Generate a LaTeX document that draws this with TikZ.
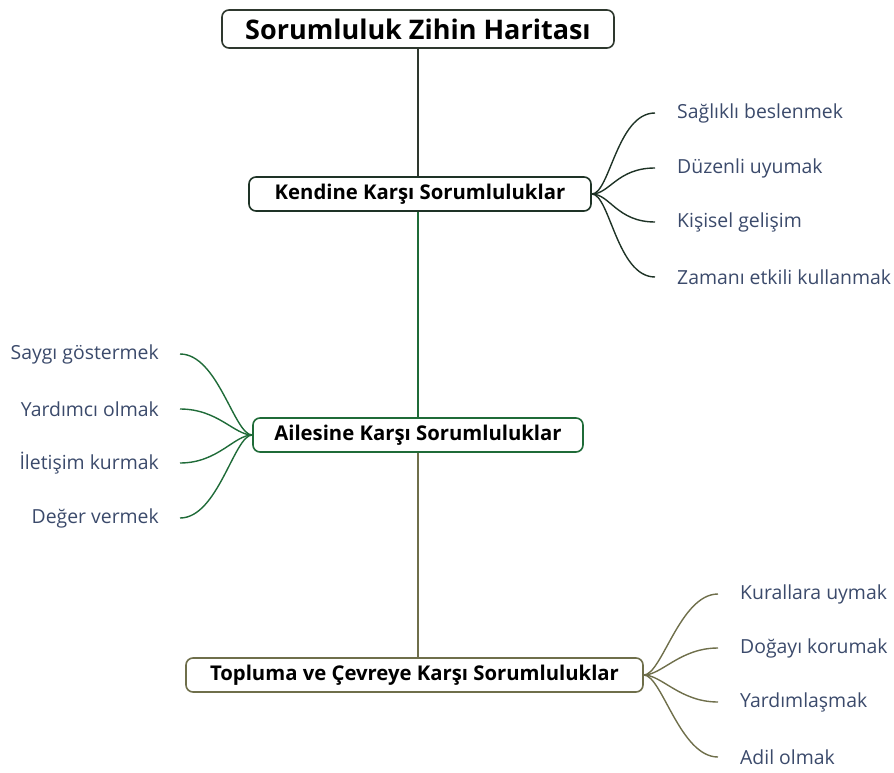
\documentclass[tikz,border=0pt]{standalone}
\usepackage{fontspec}
\setmainfont{Open Sans}
\usepackage{tikz}

\definecolor{rootline}{HTML}{2E382E}
\definecolor{selfline}{HTML}{1E3326}
\definecolor{famline}{HTML}{1F6B38}
\definecolor{socline}{HTML}{6F6F4B}
\definecolor{leaftext}{HTML}{3B4A6B}

\tikzset{
    box/.style={draw, line width=1.6pt, rounded corners=7pt, fill=white, font=\bfseries\fontsize{20.3}{24}\selectfont, minimum height=34pt, inner xsep=0pt},
    leaf/.style={text=leaftext, font=\fontsize{19.4}{23}\selectfont, inner sep=0pt},
    branch/.style={line width=1.4pt}
}

\begin{document}
\begin{tikzpicture}[x=1pt,y=-1pt]
    \useasboundingbox (0,0) rectangle (894,773);
    \node[box, draw=rootline, minimum height=38pt, minimum width=392pt, font=\bfseries\fontsize{27}{31}\selectfont] (root) at (418,29) {Sorumluluk Zihin Haritası};
    \node[box, draw=selfline, minimum width=342pt] (self) at (420,194) {Kendine Karşı Sorumluluklar};
    \node[box, draw=famline, minimum width=330pt] (fam) at (418,435) {Ailesine Karşı Sorumluluklar};
    \node[box, draw=socline, minimum width=457pt] (soc) at (414.5,675) {Topluma ve Çevreye Karşı Sorumluluklar};

    \draw[branch, rootline] (root.south) -- (root.south |- self.north);
    \draw[branch, famline] (root.south |- self.south) -- (root.south |- fam.north);
    \draw[branch, socline] (root.south |- fam.south) -- (root.south |- soc.north);

    % kendine
    \node[leaf, anchor=west] (s1) at (677,113) {Sağlıklı beslenmek};
    \node[leaf, anchor=west] (s2) at (677,168) {Düzenli uyumak};
    \node[leaf, anchor=west] (s3) at (677,222) {Kişisel gelişim};
    \node[leaf, anchor=west] (s4) at (677,277) {Zamanı etkili kullanmak};
    \foreach \l in {s1,s2,s3,s4}
        \draw[branch, selfline] (self.east) .. controls +(18,0) and +(-38,0) .. ([xshift=-22pt]\l.west);

    % ailesine
    \node[leaf, anchor=east] (f1) at (159,354) {Saygı göstermek};
    \node[leaf, anchor=east] (f2) at (159,409) {Yardımcı olmak};
    \node[leaf, anchor=east] (f3) at (159,463) {İletişim kurmak};
    \node[leaf, anchor=east] (f4) at (159,518) {Değer vermek};
    \foreach \l in {f1,f2,f3,f4}
        \draw[branch, famline] (fam.west) .. controls +(-18,0) and +(38,0) .. ([xshift=21pt]\l.east);

    % topluma
    \node[leaf, anchor=west] (t1) at (740,594) {Kurallara uymak};
    \node[leaf, anchor=west] (t2) at (740,648) {Doğayı korumak};
    \node[leaf, anchor=west] (t3) at (740,702) {Yardımlaşmak};
    \node[leaf, anchor=west] (t4) at (740,757) {Adil olmak};
    \foreach \l in {t1,t2,t3,t4}
        \draw[branch, socline] (soc.east) .. controls +(18,0) and +(-38,0) .. ([xshift=-22pt]\l.west);
\end{tikzpicture}
\end{document}
